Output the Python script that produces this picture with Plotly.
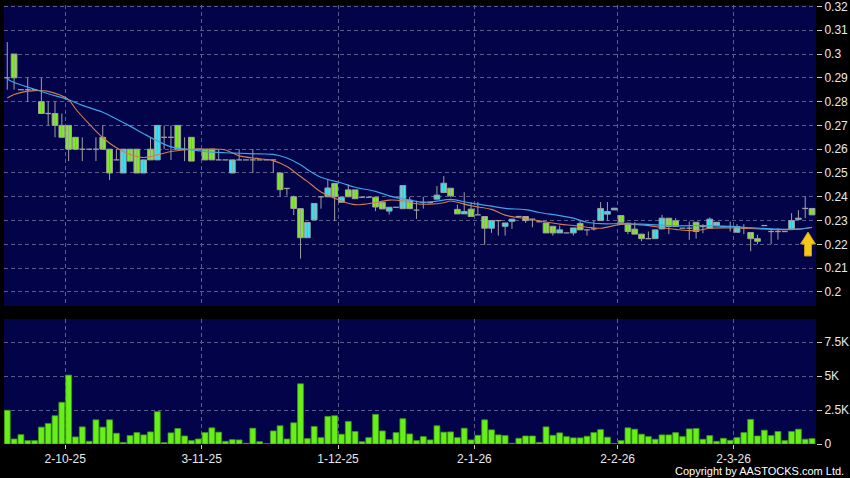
import plotly.graph_objects as go

# ---------------- data ----------------
opens = [0.290, 0.300, 0.285, 0.285, 0.285, 0.280, 0.275, 0.275, 0.270, 0.270,
         0.265, 0.260, 0.260, 0.260, 0.265, 0.260, 0.2555, 0.250, 0.260, 0.260,
         0.250, 0.260, 0.2555, 0.265, 0.265, 0.270, 0.260, 0.265, 0.260, 0.260,
         0.260, 0.2555, 0.2555, 0.250, 0.2555, 0.2555, 0.2555, 0.2555, 0.2555, 0.2555,
         0.250, 0.2435, 0.240, 0.235, 0.2228, 0.2303, 0.240, 0.240, 0.2456, 0.2377,
         0.2429, 0.2429, 0.2398, 0.2398, 0.2398, 0.2377, 0.234, 0.2356, 0.235, 0.2386,
         0.2344, 0.2376, 0.2376, 0.239, 0.2418, 0.2436, 0.2347, 0.2328, 0.2348, 0.2324,
         0.2317, 0.2268, 0.230, 0.2276, 0.2297, 0.2317, 0.2317, 0.2306, 0.2295, 0.229,
         0.2276, 0.2248, 0.2248, 0.2248, 0.2288, 0.2261, 0.2265, 0.230, 0.2327, 0.2345,
         0.2321, 0.2289, 0.2264, 0.2243, 0.2224, 0.2224, 0.2265, 0.231, 0.2299, 0.2268,
         0.2268, 0.2293, 0.2275, 0.2268, 0.2279, 0.2275, 0.2275, 0.2251, 0.2268, 0.225,
         0.2224, 0.2279, 0.2254, 0.2254, 0.2254, 0.2264, 0.2305, 0.2351, 0.2351]
highs = [0.305, 0.300, 0.285, 0.290, 0.285, 0.290, 0.280, 0.280, 0.275, 0.270,
         0.265, 0.265, 0.260, 0.265, 0.270, 0.260, 0.260, 0.260, 0.260, 0.260,
         0.2555, 0.265, 0.270, 0.270, 0.270, 0.270, 0.265, 0.265, 0.260, 0.260,
         0.260, 0.260, 0.2555, 0.2555, 0.260, 0.2555, 0.260, 0.2555, 0.2555, 0.2555,
         0.250, 0.2435, 0.2405, 0.235, 0.2292, 0.2372, 0.240, 0.2475, 0.2456, 0.2398,
         0.2452, 0.2429, 0.2398, 0.2398, 0.2398, 0.2377, 0.2356, 0.2356, 0.2447, 0.240,
         0.2383, 0.240, 0.2376, 0.2445, 0.2487, 0.2436, 0.2367, 0.2419, 0.2378, 0.2378,
         0.2317, 0.230, 0.230, 0.229, 0.2306, 0.2317, 0.2317, 0.2306, 0.2295, 0.229,
         0.2276, 0.2279, 0.2248, 0.2269, 0.230, 0.2261, 0.230, 0.2378, 0.2378, 0.2352,
         0.2321, 0.2289, 0.2293, 0.2243, 0.2254, 0.2261, 0.2324, 0.231, 0.231, 0.2268,
         0.2296, 0.2293, 0.2285, 0.2313, 0.2293, 0.2275, 0.2296, 0.2285, 0.2285, 0.225,
         0.224, 0.2279, 0.2268, 0.2268, 0.2254, 0.2331, 0.2344, 0.240, 0.2351]
lows = [0.285, 0.285, 0.285, 0.280, 0.285, 0.275, 0.270, 0.265, 0.265, 0.255,
        0.260, 0.255, 0.260, 0.255, 0.260, 0.247, 0.2555, 0.250, 0.255, 0.250,
        0.250, 0.2555, 0.2555, 0.260, 0.2555, 0.260, 0.255, 0.255, 0.260, 0.2555,
        0.2555, 0.2555, 0.2555, 0.250, 0.2555, 0.2555, 0.250, 0.2555, 0.2555, 0.250,
        0.240, 0.2405, 0.2323, 0.214, 0.2228, 0.2303, 0.235, 0.240, 0.2298, 0.2377,
        0.240, 0.2392, 0.2398, 0.2398, 0.234, 0.2349, 0.2325, 0.2356, 0.235, 0.235,
        0.2307, 0.235, 0.2376, 0.239, 0.2418, 0.2398, 0.2328, 0.2328, 0.2317, 0.2324,
        0.2198, 0.2248, 0.2237, 0.2237, 0.2265, 0.2317, 0.229, 0.2272, 0.2295, 0.2248,
        0.2237, 0.2248, 0.2248, 0.2237, 0.2261, 0.2237, 0.2258, 0.230, 0.230, 0.2345,
        0.2293, 0.2243, 0.2243, 0.2213, 0.2224, 0.2224, 0.2265, 0.2243, 0.2275, 0.2268,
        0.2219, 0.2224, 0.2247, 0.2268, 0.2279, 0.2275, 0.2254, 0.2251, 0.2243, 0.2171,
        0.2201, 0.2279, 0.2201, 0.222, 0.2254, 0.2264, 0.2305, 0.231, 0.2324]
closes = [0.290, 0.290, 0.285, 0.285, 0.285, 0.275, 0.275, 0.270, 0.265, 0.260,
          0.260, 0.260, 0.260, 0.260, 0.260, 0.250, 0.2555, 0.260, 0.255, 0.250,
          0.2555, 0.2555, 0.270, 0.265, 0.265, 0.260, 0.260, 0.255, 0.260, 0.2555,
          0.2555, 0.2555, 0.2555, 0.2555, 0.2555, 0.2555, 0.2555, 0.2555, 0.2555, 0.2555,
          0.243, 0.2435, 0.2351, 0.2228, 0.2292, 0.2372, 0.240, 0.2437, 0.240, 0.2398,
          0.240, 0.2392, 0.2398, 0.2398, 0.2357, 0.2349, 0.2356, 0.2356, 0.2447, 0.235,
          0.2344, 0.2376, 0.2376, 0.2407, 0.2457, 0.2404, 0.2328, 0.2338, 0.2317, 0.2324,
          0.2268, 0.230, 0.230, 0.229, 0.2306, 0.2317, 0.230, 0.2306, 0.2295, 0.2248,
          0.2248, 0.2261, 0.2248, 0.2269, 0.2261, 0.2261, 0.2265, 0.2351, 0.2338, 0.2352,
          0.2293, 0.2254, 0.2243, 0.2224, 0.2224, 0.2261, 0.231, 0.2275, 0.2275, 0.2268,
          0.2268, 0.2254, 0.2275, 0.2306, 0.2293, 0.2275, 0.2275, 0.2275, 0.2268, 0.2224,
          0.2213, 0.2279, 0.2254, 0.2254, 0.2254, 0.230, 0.231, 0.2351, 0.2324]
volumes = [2480, 370, 690, 250, 250, 1240, 1510, 2080, 3070, 5070,
           520, 1260, 200, 1780, 1240, 1780, 790, 120, 620, 840,
           670, 890, 2380, 100, 820, 1140, 590, 250, 370, 840,
           1190, 870, 200, 320, 300, 50, 1160, 170, 20, 960,
           1340, 370, 1560, 4430, 400, 1290, 470, 2030, 2080, 720,
           1660, 920, 170, 470, 2180, 960, 320, 840, 1860, 740,
           250, 545, 300, 1340, 870, 890, 470, 1160, 300, 640,
           1780, 1040, 670, 620, 50, 420, 590, 590, 120, 1260,
           640, 820, 545, 450, 450, 570, 840, 1060, 500, 25,
           250, 1190, 1090, 720, 545, 350, 670, 670, 840, 545,
           1110, 1140, 350, 620, 200, 420, 270, 470, 840, 1810,
           590, 1015, 620, 920, 250, 920, 1090, 350, 400]

ma_slow_idx = [0, 1, 4, 6, 9, 11, 14, 16, 18, 20, 22, 24, 27, 29, 32, 34, 37, 39,
               41, 43, 44, 46, 49, 51, 54, 56, 59, 61, 63, 65, 68, 71, 73, 76, 78,
               81, 83, 85, 87, 90, 93, 98, 103, 108, 113, 116, 118]
ma_slow = [0.2895, 0.2880, 0.2852, 0.2833, 0.2808, 0.2784, 0.2755, 0.2727, 0.2697,
           0.2665, 0.2635, 0.2610, 0.2597, 0.2590, 0.2585, 0.2583, 0.2580, 0.2578,
           0.2563, 0.2535, 0.2515, 0.2482, 0.2458, 0.2440, 0.2423, 0.2404, 0.2386,
           0.2377, 0.2382, 0.2389, 0.2373, 0.2361, 0.2351, 0.2346, 0.2334, 0.2321,
           0.2310, 0.2293, 0.2287, 0.2287, 0.2285, 0.2278, 0.2279, 0.2272, 0.2264,
           0.2264, 0.2272]
ma_fast_idx = [0, 1, 4, 6, 9, 10, 12, 14, 16, 18, 20, 22, 24, 27, 29, 31, 32, 34,
               37, 39, 41, 43, 44, 46, 49, 51, 54, 56, 58, 60, 62, 64, 65, 68, 71,
               73, 76, 78, 81, 83, 85, 87, 90, 93, 98, 101, 103, 108, 113, 116, 118]
ma_fast = [0.2815, 0.2830, 0.2846, 0.2843, 0.2808, 0.2770, 0.2706, 0.2648, 0.2606,
           0.2578, 0.2565, 0.2576, 0.2590, 0.2600, 0.2600, 0.2600, 0.2597, 0.2572,
           0.2560, 0.2552, 0.2527, 0.2485, 0.2465, 0.2420, 0.2383, 0.2367, 0.2376,
           0.2386, 0.2383, 0.2371, 0.2369, 0.2375, 0.2382, 0.2362, 0.2347, 0.2323,
           0.2308, 0.2299, 0.2285, 0.2279, 0.2272, 0.2268, 0.2284, 0.2282, 0.2263,
           0.2258, 0.2268, 0.2268, 0.2262, 0.2264, 0.2271]

date_tick_pos = [8.5, 28.5, 48.5, 68.5, 89.5, 106.5]
date_tick_text = ["2-10-25", "3-11-25", "1-12-25", "2-1-26", "2-2-26", "2-3-26"]
price_ticks = [0.20, 0.21, 0.22, 0.23, 0.24, 0.25, 0.26, 0.27, 0.28, 0.29, 0.30, 0.31, 0.32]
price_tick_text = ["0.2", "0.21", "0.22", "0.23", "0.24", "0.25", "0.26", "0.27",
                   "0.28", "0.29", "0.3", "0.31", "0.32"]
vol_ticks = [0, 2500, 5000, 7500]
vol_tick_text = ["0", "2.5K", "5K", "7.5K"]

# ---------------- derived drawing lists ----------------
n = len(closes)
bars = list(range(n))
BODY_W = 0.84

up_x, up_base, up_h = [], [], []
dn_x, dn_base, dn_h = [], [], []
doji_x, doji_y = [], []
wick_x, wick_y = [], []
for i, (o, h, l, c) in enumerate(zip(opens, highs, lows, closes)):
    wick_x += [i, i, None]
    wick_y += [l, h, None]
    if c > o:
        up_x.append(i); up_base.append(o); up_h.append(c - o)
    elif c < o:
        dn_x.append(i); dn_base.append(c); dn_h.append(o - c)
    else:
        doji_x += [i - BODY_W / 2, i + BODY_W / 2, None]
        doji_y += [o, o, None]

# ---------------- figure ----------------
FONT = "Liberation Sans, Arial, sans-serif"
BG = "#03034a"
GRID = "#5c5c8c"
WICK = "#a0a0a0"

fig = go.Figure()
fig.add_trace(go.Scatter(x=wick_x, y=wick_y, mode="lines",
                         line=dict(color=WICK, width=1), xaxis="x", yaxis="y",
                         showlegend=False, hoverinfo="skip"))
fig.add_trace(go.Bar(x=up_x, y=up_h, base=up_base, width=BODY_W,
                     marker=dict(color="#30e6f4", line=dict(color=WICK, width=1)),
                     xaxis="x", yaxis="y", showlegend=False, hoverinfo="skip"))
fig.add_trace(go.Bar(x=dn_x, y=dn_h, base=dn_base, width=BODY_W,
                     marker=dict(color="#7cf01e", line=dict(color=WICK, width=1)),
                     xaxis="x", yaxis="y", showlegend=False, hoverinfo="skip"))
fig.add_trace(go.Scatter(x=doji_x, y=doji_y, mode="lines",
                         line=dict(color=WICK, width=1.3), xaxis="x", yaxis="y",
                         showlegend=False, hoverinfo="skip"))
fig.add_trace(go.Scatter(x=ma_fast_idx, y=ma_fast, mode="lines",
                         line=dict(color="#d07e50", width=1.1, shape="spline"),
                         xaxis="x", yaxis="y", showlegend=False, hoverinfo="skip"))
fig.add_trace(go.Scatter(x=ma_slow_idx, y=ma_slow, mode="lines",
                         line=dict(color="#3ea4e6", width=1.2, shape="spline"),
                         xaxis="x", yaxis="y", showlegend=False, hoverinfo="skip"))
fig.add_trace(go.Bar(x=bars, y=volumes, width=0.86,
                     marker=dict(color="#68ee1a", line=dict(color="#3c9a12", width=0.8)),
                     xaxis="x2", yaxis="y2", showlegend=False, hoverinfo="skip"))

W, H = 850, 478
L, R, T, B = 4, 34, 5, 34
plot_h = H - T - B
price_bottom_px, vol_top_px = 306, 319
price_dom = [(H - B - price_bottom_px) / plot_h, 1.0]
vol_dom = [0.0, (H - B - vol_top_px) / plot_h]

xr = [-0.48, 118.58]
common_x = dict(range=xr, showgrid=True, gridcolor=GRID, griddash="4px,3px",
                gridwidth=1, zeroline=False, tickvals=date_tick_pos,
                showline=False, fixedrange=True, automargin=False)
axis_font = dict(family=FONT, size=12, color="#e8e8e8")

fig.update_layout(
    width=W, height=H,
    margin=dict(l=L, r=R, t=T, b=B, pad=0, autoexpand=False),
    paper_bgcolor="#000000", plot_bgcolor=BG,
    barmode="overlay",
    xaxis=dict(domain=[0, 1], anchor="y", showticklabels=False, ticks="", **common_x),
    xaxis2=dict(domain=[0, 1], anchor="y2", ticktext=date_tick_text, ticks="outside",
                ticklen=4, tickcolor="#cccccc", tickfont=axis_font, **common_x),
    yaxis=dict(domain=price_dom, anchor="x", side="right", range=[0.1941, 0.3206],
               tickvals=price_ticks, ticktext=price_tick_text, ticks="outside",
               ticklen=5, tickcolor="#cccccc", tickfont=axis_font, automargin=False,
               ticklabeloverflow="allow",
               showgrid=True, gridcolor=GRID, griddash="4px,3px", zeroline=False),
    yaxis2=dict(domain=vol_dom, anchor="x2", side="right", range=[0, 9200],
                tickvals=vol_ticks, ticktext=vol_tick_text, ticks="outside",
                ticklen=5, tickcolor="#cccccc", tickfont=axis_font, automargin=False,
                ticklabeloverflow="allow",
                showgrid=True, gridcolor=GRID, griddash="4px,3px", zeroline=False),
)

def px(xp):
    return (xp - L) / (W - L - R)

def py(yp):
    return (H - B - yp) / plot_h

# yellow "latest" arrow (decoration)
pts = [(808, 232), (800.5, 244), (804.5, 244), (804.5, 256), (811.5, 256),
       (811.5, 244), (815.5, 244)]
path = "M " + " L ".join(f"{px(a):.5f},{py(b):.5f}" for a, b in pts) + " Z"
fig.add_shape(type="path", path=path, xref="paper", yref="paper",
              fillcolor="#f7c81c", line=dict(color="#c99a10", width=1), layer="above")

fig.add_annotation(text="Copyright by AASTOCKS.com Ltd.", xref="paper", yref="paper",
                   x=px(846), y=py(471), xanchor="right", yanchor="middle",
                   showarrow=False, font=dict(family=FONT, size=11, color="#ffffff"))

fig.write_html("out.html", config={"displayModeBar": False},
               post_script="document.body.style.margin='0';document.body.style.background='#000';")
